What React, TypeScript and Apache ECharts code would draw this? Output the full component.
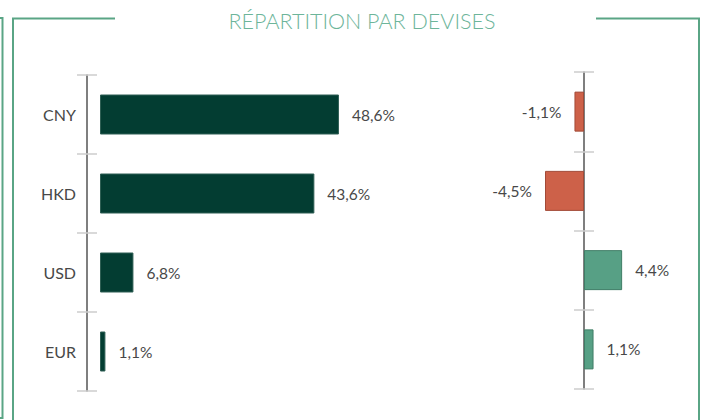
import React, { useEffect, useRef } from "react";
import * as echarts from "echarts";

const categories = ["CNY", "HKD", "USD", "EUR"];
const weights = [48.6, 43.6, 6.8, 1.1];
const variations = [-1.1, -4.5, 4.4, 1.1];
const titleText = "RÉPARTITION PAR DEVISES";

const fmt = (v: number) => v.toFixed(1).replace(".", ",") + "%";

export default function App() {
  const ref = useRef<HTMLDivElement>(null);
  useEffect(() => {
    if (!ref.current) return;
    const chart = echarts.init(ref.current, null, { renderer: "svg" });
    const frame = "#5aa585";
    const labelStyle = { fontFamily: "Lato", fontSize: 15.5, color: "#484848" };
    chart.setOption({
      animation: false,
      backgroundColor: "#fff",
      textStyle: { fontFamily: "Lato" },
      grid: [
        { left: 100, top: 75, width: 295, height: 316 },
        { left: 532, top: 72, width: 104, height: 317 },
      ],
      xAxis: [
        { type: "value", gridIndex: 0, min: 0, max: 60, show: false },
        { type: "value", gridIndex: 1, min: -6, max: 6, show: false },
      ],
      yAxis: [
        {
          type: "category", gridIndex: 0, data: categories, inverse: true,
          position: "left", offset: 13,
          axisLine: { show: true, onZero: false, lineStyle: { color: "#555", width: 1.5 } },
          axisTick: { show: true, length: 10, lineStyle: { color: "#ccc", width: 1.5 } },
          axisLabel: { margin: 11, fontFamily: "Lato", fontSize: 16, color: "#484848" },
          splitLine: { show: false },
        },
        {
          type: "category", gridIndex: 0, data: categories, inverse: true,
          position: "left", offset: 13,
          axisLine: { show: false, onZero: false },
          axisTick: { show: true, inside: true, length: 10, lineStyle: { color: "#ccc", width: 1.5 } },
          axisLabel: { show: false },
          splitLine: { show: false },
        },
        {
          type: "category", gridIndex: 1, data: categories, inverse: true,
          position: "left", offset: -52,
          axisLine: { show: true, onZero: false, lineStyle: { color: "#555", width: 1.5 } },
          axisTick: { show: true, length: 10, lineStyle: { color: "#ccc", width: 1.5 } },
          axisLabel: { show: false },
          splitLine: { show: false },
        },
        {
          type: "category", gridIndex: 1, data: categories, inverse: true,
          position: "left", offset: -52,
          axisLine: { show: false, onZero: false },
          axisTick: { show: true, inside: true, length: 10, lineStyle: { color: "#ccc", width: 1.5 } },
          axisLabel: { show: false },
          splitLine: { show: false },
        },
      ],
      series: [
        {
          type: "bar", xAxisIndex: 0, yAxisIndex: 0, data: weights, barWidth: 40,
          itemStyle: { color: "#033d32", borderColor: "#2f5f54", borderWidth: 1 },
          label: { show: true, position: "right", distance: 13, ...labelStyle, formatter: (p: any) => fmt(p.value) },
        },
        {
          type: "bar", xAxisIndex: 1, yAxisIndex: 2, barWidth: 40,
          data: variations.map((v) => ({
            value: v,
            itemStyle: v < 0
              ? { color: "#cd6149", borderColor: "#a24a37", borderWidth: 1 }
              : { color: "#57a085", borderColor: "#3f7d66", borderWidth: 1 },
            label: { position: v < 0 ? "left" : "right" },
          })),
          label: { show: true, distance: 13, ...labelStyle, formatter: (p: any) => fmt(p.value) },
        },
      ],
      graphic: [
        {
          type: "text", x: 362, y: 21,
          style: {
            text: titleText, fontFamily: "Lato", fontWeight: 300, fontSize: 21.5,
            fill: "#6db59a", textAlign: "center", textVerticalAlign: "middle",
          },
        },
        { type: "polyline", shape: { points: [[0, 18], [2.5, 18], [2.5, 418], [0, 418]] }, style: { stroke: frame, lineWidth: 2, fill: null } },
        { type: "polyline", shape: { points: [[115, 18.5], [13, 18.5], [13, 420]] }, style: { stroke: frame, lineWidth: 2, fill: null } },
        { type: "polyline", shape: { points: [[596, 18.5], [699, 18.5], [699, 420]] }, style: { stroke: frame, lineWidth: 2, fill: null } },
      ],
    });
    return () => chart.dispose();
  }, []);
  return <div ref={ref} style={{ position: "fixed", left: 0, top: 0, width: 705, height: 420 }} />;
}
